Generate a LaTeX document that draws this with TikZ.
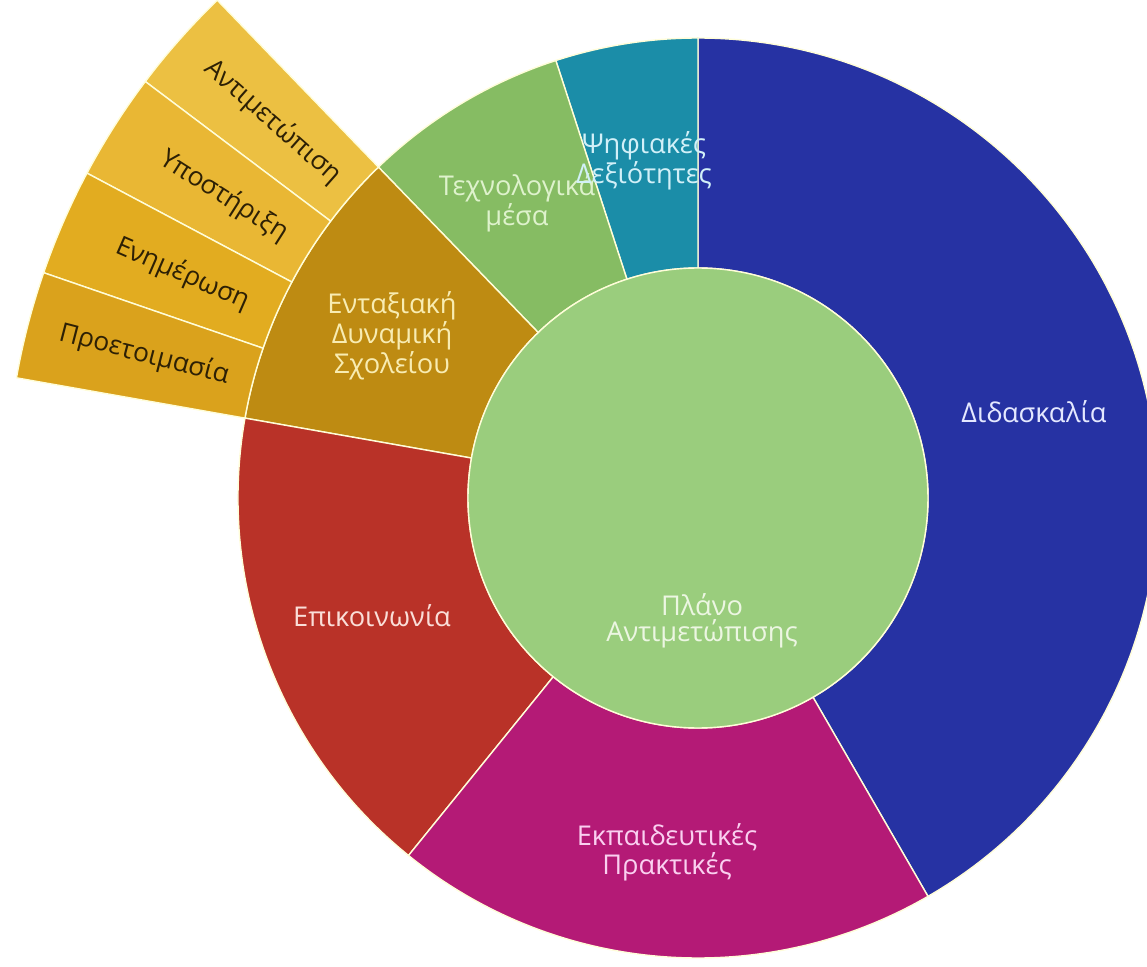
\documentclass[tikz,border=0pt]{standalone}
\usepackage{fontspec}
\setmainfont{Open Sans}
\definecolor{cBlue}{RGB}{38,50,163}
\definecolor{cTeal}{RGB}{27,141,168}
\definecolor{cGreen}{RGB}{134,188,99}
\definecolor{cGold}{RGB}{190,139,18}
\definecolor{cRed}{RGB}{185,50,40}
\definecolor{cMag}{RGB}{180,26,118}
\definecolor{cCore}{RGB}{154,205,125}
\definecolor{cSubA}{RGB}{236,192,66}
\definecolor{cSubB}{RGB}{233,183,52}
\definecolor{cSubC}{RGB}{226,172,32}
\definecolor{cSubD}{RGB}{218,162,28}
\definecolor{tBlue}{RGB}{228,232,255}
\definecolor{tCore}{RGB}{236,246,226}
\definecolor{tMag}{RGB}{250,208,240}
\definecolor{tRed}{RGB}{250,222,216}
\definecolor{tGold}{RGB}{248,236,178}
\definecolor{tGreen}{RGB}{222,242,204}
\definecolor{tTeal}{RGB}{210,240,248}
\definecolor{tDark}{RGB}{45,32,5}
\newcommand\sbsector[5]{\filldraw[segborder,fill=#1] (#2:#4) arc[start angle=#2, end angle=#3, radius=#4] -- (#3:#5) arc[start angle=#3, end angle=#2, radius=#5] -- cycle;}
\tikzset{
  segborder/.style={draw=white!85!yellow, line width=0.8pt, line join=round},
  lbl/.style={align=center, font=\fontsize{15.5}{15}\selectfont, inner sep=0pt},
  sublbl/.style={font=\fontsize{15}{15}\selectfont, text=tDark, inner sep=0pt}
}
\begin{document}
\begin{tikzpicture}[x=0.02cm,y=0.02cm]
\useasboundingbox (-698,-469) rectangle (449,498);
\clip (-698,-469) rectangle (449,498);
% middle ring
\sbsector{cBlue}{-60}{90}{230}{460}
\sbsector{cTeal}{90}{108}{230}{460}
\sbsector{cGreen}{108}{134}{230}{460}
\sbsector{cGold}{134}{170}{230}{460}
\sbsector{cRed}{170}{231}{230}{460}
\sbsector{cMag}{231}{300}{230}{460}
% outer ring
\sbsector{cSubA}{134}{143}{460}{692}
\sbsector{cSubB}{143}{152}{460}{692}
\sbsector{cSubC}{152}{161}{460}{692}
\sbsector{cSubD}{161}{170}{460}{692}
% core
\filldraw[segborder, fill=cCore] (0,0) circle[radius=230];
% labels
\node[lbl, text=tBlue] (didaskalia) at (336,86) {Διδασκαλία};
\node[lbl, text=tCore] (plano) at (4,-123) {Πλάνο\\Αντιμετώπισης};
\node[lbl, text=tMag] (ekpaid) at (-31,-354) {Εκπαιδευτικές\\Πρακτικές};
\node[lbl, text=tRed] (epikoin) at (-326,-118) {Επικοινωνία};
\node[lbl, text=tGold] (entax) at (-306,162) {Ενταξιακή\\Δυναμική\\Σχολείου};
\node[lbl, text=tGreen] (techno) at (-181,295) {Τεχνολογικά\\μέσα};
\node[lbl, text=tTeal] (psifiakes) at (-54,337) {Ψηφιακές\\Δεξιότητες};
\node[sublbl, rotate=-41.5] (antim) at (138.5:568) {Αντιμετώπιση};
\node[sublbl, rotate=-32.5] (ypost) at (147.5:562) {Υποστήριξη};
\node[sublbl, rotate=-23.5] (enim) at (156.5:562) {Ενημέρωση};
\node[sublbl, rotate=-14.5] (proet) at (165.5:572) {Προετοιμασία};
\end{tikzpicture}
\end{document}
